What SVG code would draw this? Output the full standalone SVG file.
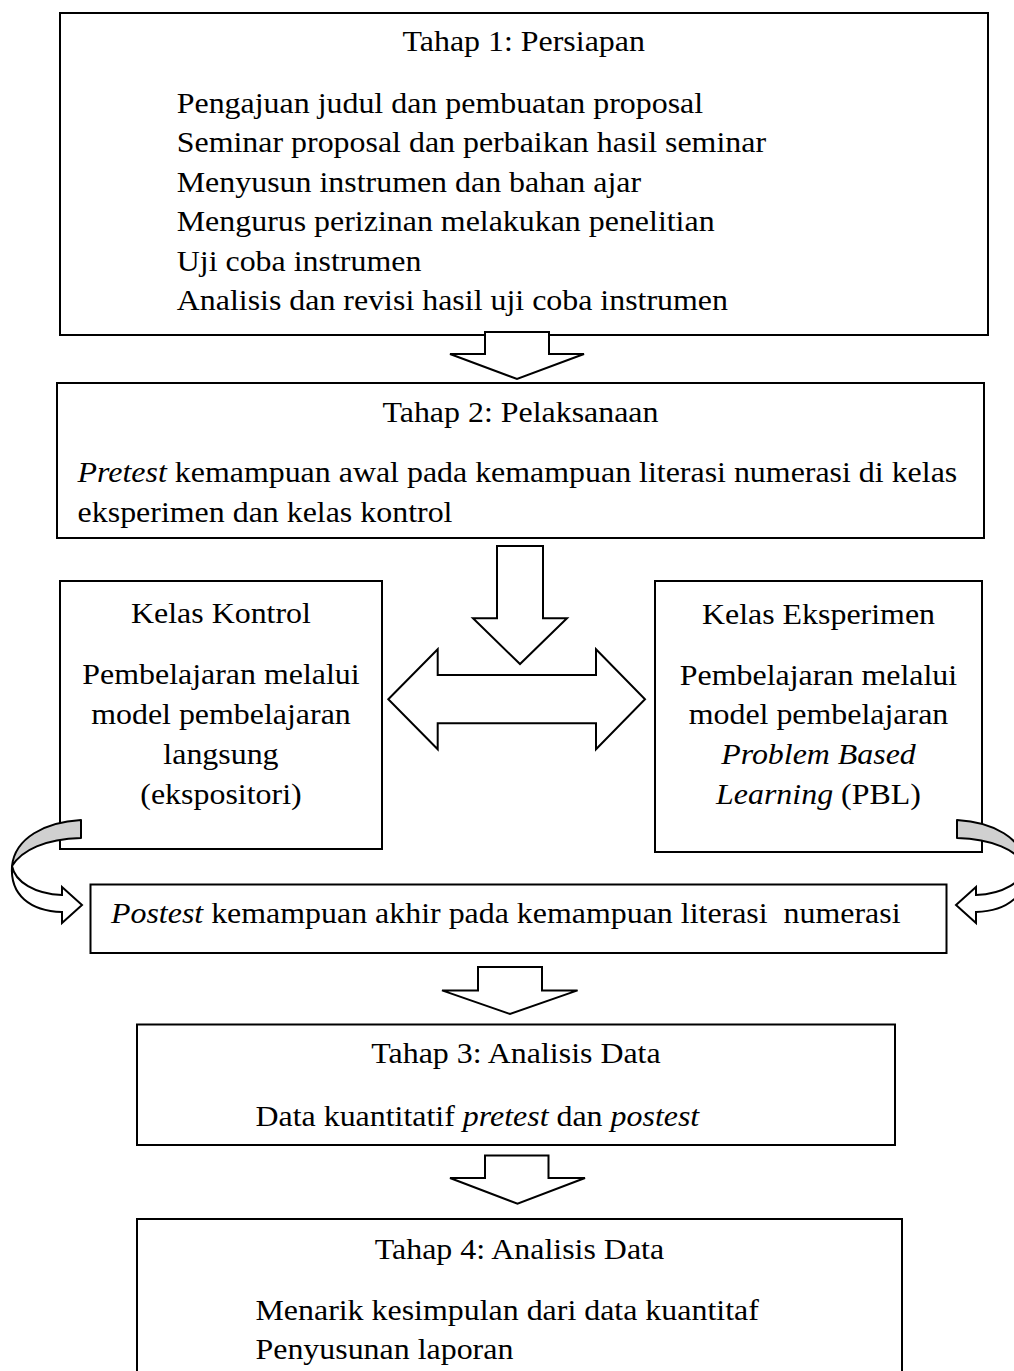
<svg xmlns="http://www.w3.org/2000/svg" width="1014" height="1371" viewBox="0 0 1014 1371">
<style>
.box{fill:#fff;stroke:#000;stroke-width:2}
.arr{fill:#fff;stroke:#000;stroke-width:2;stroke-linejoin:miter}
.gray{fill:#d0d0d0;stroke:#000;stroke-width:2;stroke-linejoin:round}
.wht{fill:#fff;stroke:#000;stroke-width:2;stroke-linejoin:miter}
text{font-family:"Liberation Serif","Times New Roman",serif;font-size:28.5px;fill:#000}
.c{text-anchor:middle}
.i{font-style:italic}
</style>
<rect width="1014" height="1371" fill="#fff"/>

<g id="tahap1">
<rect class="box" x="60" y="13" width="928" height="322"/>
<g transform="scale(1.12,1)">
<text class="c" x="467.6" y="51">Tahap 1: Persiapan</text>
<text x="157.8" y="112.7">Pengajuan judul dan pembuatan proposal</text>
<text x="157.8" y="152.2">Seminar proposal dan perbaikan hasil seminar</text>
<text x="157.8" y="191.7">Menyusun instrumen dan bahan ajar</text>
<text x="157.8" y="231.2">Mengurus perizinan melakukan penelitian</text>
<text x="157.8" y="270.7">Uji coba instrumen</text>
<text x="157.8" y="310.2">Analisis dan revisi hasil uji coba instrumen</text>
</g>
</g>

<g id="tahap2">
<rect class="box" x="57" y="383" width="927" height="155"/>
<g transform="scale(1.12,1)">
<text class="c" x="464.7" y="422">Tahap 2: Pelaksanaan</text>
<text x="69.3" y="482.5"><tspan class="i">Pretest</tspan> kemampuan awal pada kemampuan literasi numerasi di kelas</text>
<text x="69.3" y="522">eksperimen dan kelas kontrol</text>
</g>
</g>

<g id="kelas-kontrol">
<rect class="box" x="60" y="581" width="322" height="268"/>
<g transform="scale(1.12,1)">
<text class="c" x="197.3" y="623.5">Kelas Kontrol</text>
<text class="c" x="197.3" y="684.5">Pembelajaran melalui</text>
<text class="c" x="197.3" y="724.5">model pembelajaran</text>
<text class="c" x="197.3" y="764">langsung</text>
<text class="c" x="197.3" y="804">(ekspositori)</text>
</g>
</g>

<g id="kelas-eksperimen">
<rect class="box" x="655" y="581" width="327" height="271"/>
<g transform="scale(1.12,1)">
<text class="c" x="730.8" y="624">Kelas Eksperimen</text>
<text class="c" x="730.8" y="685">Pembelajaran melalui</text>
<text class="c" x="730.8" y="724.5">model pembelajaran</text>
<text class="c i" x="730.8" y="764.5">Problem Based</text>
<text class="c" x="730.8" y="804"><tspan class="i">Learning</tspan> (PBL)</text>
</g>
</g>

<g id="postest">
<rect class="box" x="90.5" y="884.5" width="856" height="68.5"/>
<g transform="scale(1.12,1)">
<text x="99.1" y="923" xml:space="preserve"><tspan class="i">Postest</tspan> kemampuan akhir pada kemampuan literasi  numerasi</text>
</g>
</g>

<g id="tahap3">
<rect class="box" x="137" y="1024.5" width="758" height="120.5"/>
<g transform="scale(1.12,1)">
<text class="c" x="460.7" y="1063.5">Tahap 3: Analisis Data</text>
<text x="228.1" y="1126.5">Data kuantitatif <tspan class="i">pretest</tspan> dan <tspan class="i">postest</tspan></text>
</g>
</g>

<g id="tahap4">
<rect class="box" x="137" y="1219" width="765" height="170"/>
<g transform="scale(1.12,1)">
<text class="c" x="463.8" y="1259.5">Tahap 4: Analisis Data</text>
<text x="228.1" y="1320.5">Menarik kesimpulan dari data kuantitaf</text>
<text x="228.1" y="1359">Penyusunan laporan</text>
</g>
</g>

<g id="connectors">
<path class="arr" d="M485,332 L549,332 L549,354 L584,354 L517,379 L450,354 L485,354 Z"/>
<path class="arr" d="M497,546 L543,546 L543,618.3 L567,618.3 L520,664 L473,618.3 L497,618.3 Z"/>
<path class="arr" d="M388.3,699.3 L437.7,649.3 L437.7,675 L596,675 L596,649.3 L645,699.3 L596,749.3 L596,723.3 L437.7,723.3 L437.7,749.3 Z"/>
<path class="arr" d="M478,967 L542,967 L542,990.4 L577.6,990.4 L510,1014 L442,990.4 L478,990.4 Z"/>
<path class="arr" d="M485,1155.6 L548.5,1155.6 L548.5,1178 L585,1178 L517.5,1203.7 L450,1178 L485,1178 Z"/>
<g id="curve-left">
<path class="gray" d="M81,820 C45,822 15,838 12,866 C22,850 45,839 81,838 Z"/>
<path class="wht" d="M12,866 C15,882 35,894 62,895 L62,887 L82,905 L62,923 L62,912 C30,911 10,895 12,866 Z"/>
</g>
<g id="curve-right" transform="translate(1038,0) scale(-1,1)">
<path class="gray" d="M81,820 C45,822 15,838 12,866 C22,850 45,839 81,838 Z"/>
<path class="wht" d="M12,866 C15,882 35,894 62,895 L62,887 L82,905 L62,923 L62,912 C30,911 10,895 12,866 Z"/>
</g>
</g>
</svg>
